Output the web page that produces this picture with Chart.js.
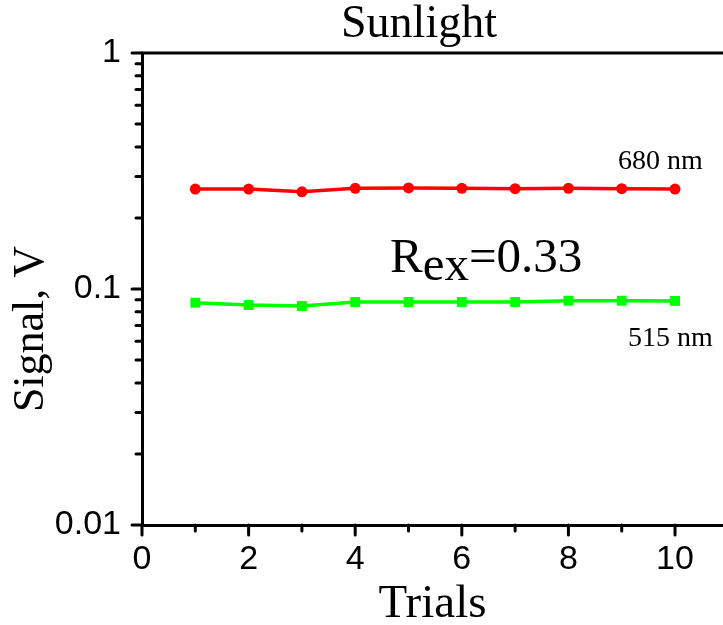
<!DOCTYPE html>
<html>
<head>
<meta charset="utf-8">
<script src="https://cdn.jsdelivr.net/npm/chart.js@4"></script>
<style>
  body { margin: 0; background: #fff; }
  canvas { display: block; }
</style>
</head>
<body>
<canvas id="sig" width="723" height="625"></canvas>
<script>
const trials = [1, 2, 3, 4, 5, 6, 7, 8, 9, 10];
const red680 = [0.265, 0.265, 0.258, 0.267, 0.268, 0.267, 0.266, 0.267, 0.266, 0.265];
const green515 = [0.0875, 0.0855, 0.0847, 0.0881, 0.0881, 0.0881, 0.0881, 0.0892, 0.0892, 0.0890];
const xTicks = [0, 2, 4, 6, 8, 10];
const yTicks = [0.01, 0.1, 1];
const yTickLabels = ['0.01', '0.1', '1'];

const serif = '"Liberation Serif", "Times New Roman", serif';
const sans = '"Liberation Sans", Arial, sans-serif';

// ticks outside the frame, the top line and the text notes
const frame = {
    id: 'frame',
    afterDraw(chart) {
        const c = chart.ctx;
        const a = chart.chartArea;
        const x = chart.scales.x, y = chart.scales.y;
        c.save();
        c.strokeStyle = '#000';
        c.lineWidth = 3;
        c.beginPath();
        c.moveTo(a.left - 1, a.top);
        c.lineTo(a.right, a.top);
        c.stroke();

        c.lineCap = 'round';
        for (let d = 0; d < yTicks.length; d++) {
            let py = y.getPixelForValue(yTicks[d]);
            c.beginPath(); c.moveTo(a.left - 10, py); c.lineTo(a.left, py); c.stroke();
            if (d < yTicks.length - 1) {
                for (let m = 2; m < 10; m++) {
                    py = y.getPixelForValue(yTicks[d] * m);
                    c.beginPath(); c.moveTo(a.left - 6, py); c.lineTo(a.left, py); c.stroke();
                }
            }
        }
        for (let i = 0; i <= 10; i++) {
            const px = x.getPixelForValue(i);
            const len = i % 2 == 0 ? 10 : 6;
            c.beginPath(); c.moveTo(px, a.bottom); c.lineTo(px, a.bottom + len); c.stroke();
        }

        c.fillStyle = '#000';
        c.textBaseline = 'alphabetic';
        c.textAlign = 'center';
        c.font = '46px ' + serif;
        c.fillText('Sunlight', 419, 37);

        c.save();
        c.translate(43, 329);
        c.rotate(-Math.PI / 2);
        c.font = '44px ' + serif;
        c.fillText('Signal, V', 0, 0);
        c.restore();

        c.textAlign = 'left';
        c.font = '28px ' + serif;
        c.fillText('680 nm', 618, 169);
        c.fillText('515 nm', 628, 346);

        c.font = '49px ' + serif;
        let tx = 390;
        c.fillText('R', tx, 272);
        tx += c.measureText('R').width;
        c.fillText('ex', tx, 280);
        tx += c.measureText('ex').width;
        c.fillText('=0.33', tx, 272);
        c.restore();
    }
};

const ctx = document.getElementById('sig').getContext('2d');

const sigChart = new Chart(ctx, {
    type: 'line',
    data: {
        labels: trials,
        datasets: [{
            label: '680 nm',
            data: trials.map((t, i) => ({ x: t, y: red680[i] })),
            borderColor: '#ff0000',
            backgroundColor: '#ff0000',
            borderWidth: 3.5,
            pointStyle: 'circle',
            pointRadius: 5.5,
            pointBorderWidth: 0
        }, {
            label: '515 nm',
            data: trials.map((t, i) => ({ x: t, y: green515[i] })),
            borderColor: '#00ff00',
            backgroundColor: '#00ff00',
            borderWidth: 3.5,
            pointStyle: 'rect',
            pointRadius: 7,
            pointBorderWidth: 0
        }]
    },
    options: {
        responsive: false,
        animation: false,
        layout: { autoPadding: false, padding: { top: 53, left: 0, right: 0, bottom: 0 } },
        plugins: {
            legend: { display: false },
            title: { display: false },
            tooltip: { enabled: false }
        },
        scales: {
            x: {
                type: 'linear',
                min: 0,
                max: 10.9,
                afterFit: s => { s.height = 100; s.paddingRight = 0; },
                afterBuildTicks: s => { s.ticks = xTicks.map(v => ({ value: v })); },
                grid: { display: false, drawTicks: false },
                border: { display: true, color: '#000', width: 3 },
                ticks: {
                    color: '#000',
                    padding: 14,
                    maxRotation: 0,
                    autoSkip: false,
                    font: { family: sans, size: 34 },
                    callback: v => String(v)
                },
                title: {
                    display: true,
                    text: 'Trials',
                    color: '#000',
                    font: { family: serif, size: 47, lineHeight: 0.85 },
                    padding: { top: 0, bottom: 0 }
                }
            },
            y: {
                type: 'logarithmic',
                min: 0.01,
                max: 1,
                afterFit: s => { s.width = 142; },
                afterBuildTicks: s => { s.ticks = yTicks.map(v => ({ value: v })); },
                grid: { display: false, drawTicks: false },
                border: { display: true, color: '#000', width: 3 },
                ticks: {
                    color: '#000',
                    padding: 21,
                    autoSkip: false,
                    font: { family: sans, size: 34 },
                    callback: function (v) {
                        const k = yTicks.findIndex(t => Math.abs(t - v) < t * 1e-6);
                        return k >= 0 ? yTickLabels[k] : '';
                    }
                }
            }
        }
    },
    plugins: [frame]
});
</script>
</body>
</html>
